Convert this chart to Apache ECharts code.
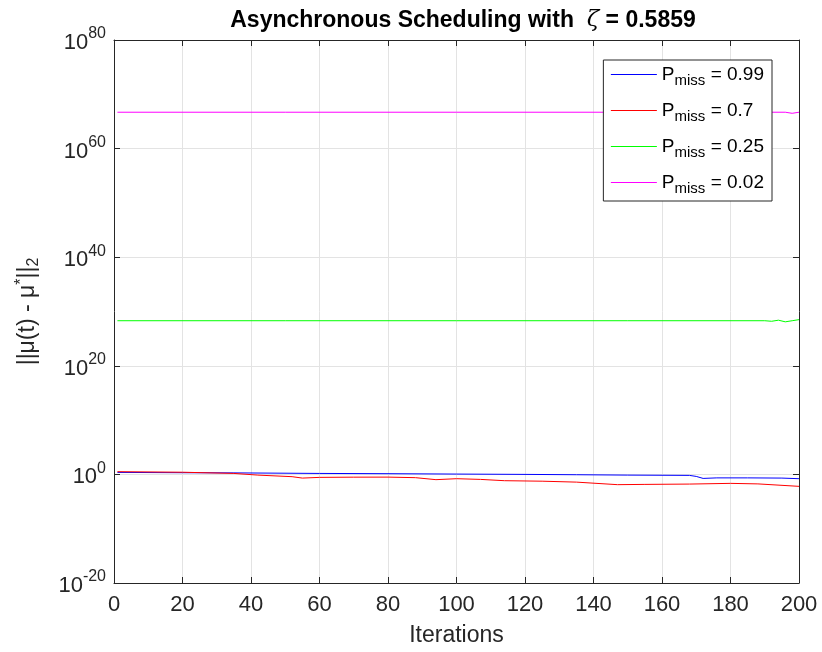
<!DOCTYPE html>
<html lang="en">
<head>
<meta charset="UTF-8">
<title>Asynchronous Scheduling</title>
<script src="https://cdn.jsdelivr.net/npm/echarts@6/dist/echarts.min.js"></script>
<style>
    html, body { margin: 0; padding: 0; background: #fff; }
    #main { width: 822px; height: 652px; }
</style>
</head>
<body>
<div id="main"></div>
<script type="text/javascript">
// values, stored as log10 of ||mu(t) - mu*||_2
var blueIters = [1, 20, 35, 60, 80, 100, 120, 135, 150, 168, 170, 172, 176, 185, 195, 200];
var blueExp   = [0.37, 0.31, 0.28, 0.18, 0.13, 0.06, 0, -0.06, -0.13, -0.18, -0.37, -0.74, -0.64, -0.64, -0.68, -0.79];

var redIters = [1, 20, 35, 42, 52, 55, 60, 70, 80, 88, 94, 100, 107, 114, 125, 135, 147, 155, 168, 180, 188, 200];
var redExp   = [0.5, 0.4, 0.18, -0.13, -0.42, -0.68, -0.55, -0.51, -0.5, -0.6, -0.97, -0.79, -0.92, -1.16, -1.25, -1.42, -1.89, -1.84, -1.78, -1.65, -1.75, -2.2];

var greenIters = [1, 50, 100, 150, 190, 192, 194, 196, 198, 200];
var greenExp   = [28.3, 28.3, 28.3, 28.3, 28.3, 28.2, 28.4, 28.1, 28.3, 28.5];

var magentaIters = [1, 50, 100, 150, 196, 198, 200];
var magentaExp   = [66.7, 66.7, 66.7, 66.7, 66.7, 66.5, 66.7];

var pmiss = ['0.99', '0.7', '0.25', '0.02'];
var colors = ['#0000ff', '#ff0000', '#00ff00', '#ff00ff'];

var axisColor = '#262626';
var gridColor = '#e3e3e3';
var font = 'Liberation Sans, Arial, Helvetica, sans-serif';

function pairs(iters, exps) {
    var out = [];
    for (var i = 0; i < iters.length; i++) {
        out.push([iters[i], Math.pow(10, exps[i])]);
    }
    return out;
}

var seriesData = [
    pairs(blueIters, blueExp),
    pairs(redIters, redExp),
    pairs(greenIters, greenExp),
    pairs(magentaIters, magentaExp)
];

var myChart = echarts.init(document.getElementById('main'));

var series = [];
var legendData = [];
for (var k = 0; k < pmiss.length; k++) {
    series.push({
        name: 'Pmiss = ' + pmiss[k],
        type: 'line',
        data: seriesData[k],
        symbol: 'none',
        lineStyle: {color: colors[k], width: 1},
        itemStyle: {color: colors[k]},
        z: 3
    });
    legendData.push({
        name: 'Pmiss = ' + pmiss[k],
        lineStyle: {color: colors[k], width: 1}
    });
}

// y tick label: 10 with superscript exponent
function powLabel(v) {
    var e = Math.round(Math.log(v) / Math.LN10);
    return '{b|10}{e|' + e + '}';
}

var labelRich = {
    b: {fontSize: 22, fontFamily: font, color: axisColor, padding: [6, 0, 0, 0]},
    e: {fontSize: 16, fontFamily: font, color: axisColor, padding: [0, 0, 12, 0]}
};

myChart.setOption({
    backgroundColor: '#ffffff',
    animation: false,
    color: colors,
    title: {
        text: '{a|Asynchronous Scheduling with  }{z|ζ}{a| = 0.5859}',
        left: 458,
        top: 4,
        textAlign: 'center',
        textStyle: {
            rich: {
                a: {fontSize: 23, fontWeight: 'bold', fontFamily: font, color: '#000'},
                z: {fontSize: 23, fontStyle: 'italic', fontWeight: 'normal', fontFamily: 'DejaVu Serif, serif', color: '#000'}
            }
        }
    },
    legend: {
        data: legendData,
        orient: 'vertical',
        right: 50,
        top: 60,
        itemWidth: 46,
        itemHeight: 14,
        itemGap: 13,
        itemTextGap: 7,
        padding: [5, 8, 5, 7],
        backgroundColor: '#ffffff',
        borderColor: axisColor,
        borderWidth: 1,
        borderRadius: 0,
        itemStyle: {opacity: 0},
        formatter: function (name) {
            return '{p|P}{s|miss}{v| = ' + name.split('= ')[1] + '}';
        },
        textStyle: {
            rich: {
                p: {fontSize: 19, fontFamily: font, color: '#000'},
                s: {fontSize: 15, fontFamily: font, color: '#000', padding: [12, 0, 0, 0]},
                v: {fontSize: 19, fontFamily: font, color: '#000'}
            }
        }
    },
    grid: {
        left: 114,
        right: 23,
        top: 40,
        bottom: 68,
        containLabel: false
    },
    xAxis: [{
        type: 'value',
        min: 0,
        max: 200,
        interval: 20,
        name: 'Iterations',
        nameLocation: 'middle',
        nameGap: 41,
        nameTextStyle: {fontSize: 23, fontFamily: font, color: axisColor},
        axisLine: {show: true, onZero: false, lineStyle: {color: axisColor, width: 1}},
        axisTick: {show: true, inside: true, length: 6, lineStyle: {color: axisColor}},
        axisLabel: {fontSize: 22, fontFamily: font, color: axisColor, margin: 11},
        splitLine: {show: true, lineStyle: {color: gridColor, width: 1}}
    }, {
        type: 'value',
        position: 'top',
        min: 0,
        max: 200,
        interval: 20,
        axisLine: {show: true, onZero: false, lineStyle: {color: axisColor, width: 1}},
        axisTick: {show: true, inside: true, length: 6, lineStyle: {color: axisColor}},
        axisLabel: {show: false},
        splitLine: {show: false}
    }],
    yAxis: [{
        type: 'log',
        logBase: 10,
        min: 1e-20,
        max: 1e80,
        interval: 20,
        name: '{t|||μ(t) - μ}{sup|*}{t|||}{sub|2}',
        nameLocation: 'middle',
        nameGap: 72,
        nameTextStyle: {
            rich: {
                t: {fontSize: 23, fontFamily: font, color: axisColor},
                sup: {fontSize: 16, fontFamily: font, color: axisColor, padding: [0, 0, 12, 0]},
                sub: {fontSize: 16, fontFamily: font, color: axisColor, padding: [12, 0, 0, 0]}
            }
        },
        axisLine: {show: true, onZero: false, lineStyle: {color: axisColor, width: 1}},
        axisTick: {show: true, inside: true, length: 6, lineStyle: {color: axisColor}},
        axisLabel: {formatter: powLabel, rich: labelRich, margin: 8},
        splitLine: {show: true, lineStyle: {color: gridColor, width: 1}},
        minorTick: {show: false},
        minorSplitLine: {show: false}
    }, {
        type: 'log',
        logBase: 10,
        position: 'right',
        min: 1e-20,
        max: 1e80,
        interval: 20,
        axisLine: {show: true, onZero: false, lineStyle: {color: axisColor, width: 1}},
        axisTick: {show: true, inside: true, length: 6, lineStyle: {color: axisColor}},
        axisLabel: {show: false},
        splitLine: {show: false}
    }],
    series: series
});

window.addEventListener("resize", function () {
    myChart.resize();
});
</script>
</body>
</html>
